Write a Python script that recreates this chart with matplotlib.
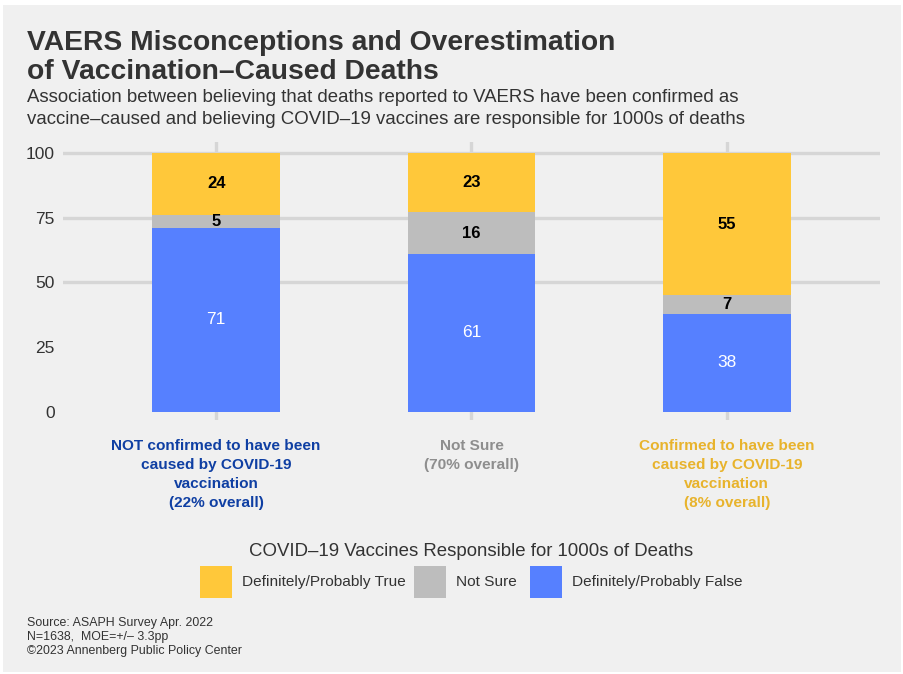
import matplotlib.pyplot as plt
from matplotlib.patches import Rectangle

plt.rcParams['font.family'] = ['Liberation Sans', 'DejaVu Sans']

# data
groups = ['NOT confirmed to have been\ncaused by COVID-19\nvaccination\n(22% overall)',
          'Not Sure\n(70% overall)',
          'Confirmed to have been\ncaused by COVID-19\nvaccination\n(8% overall)']
group_colors = ['#0f3fa3', '#8e8e8e', '#e8b32c']
series = ['Definitely/Probably False', 'Not Sure', 'Definitely/Probably True']
false_vals = [71, 61, 38]
notsure_vals = [5, 16, 7]
true_vals = [24, 23, 55]
colors = {'Definitely/Probably False': '#5680ff',
          'Not Sure': '#bdbdbd',
          'Definitely/Probably True': '#ffc83a'}
yticks = [0, 25, 50, 75, 100]
legend_order = ['Definitely/Probably True', 'Not Sure', 'Definitely/Probably False']

title_lines = ['VAERS Misconceptions and Overestimation', 'of Vaccination–Caused Deaths']
subtitle_lines = ['Association between believing that deaths reported to VAERS have been confirmed as',
                  'vaccine–caused and believing COVID–19 vaccines are responsible for 1000s of deaths']
footer_lines = ['Source: ASAPH Survey Apr. 2022', 'N=1638,  MOE=+/– 3.3pp',
                '©2023 Annenberg Public Policy Center']

W, H = 904, 674
fig = plt.figure(figsize=(W / 100, H / 100), dpi=100, facecolor='white')
fig.patches.append(Rectangle((3 / W, 2 / H), 898 / W, 667 / H, transform=fig.transFigure,
                             facecolor='#f0f0f0', edgecolor='none', zorder=-10))

ax = fig.add_axes([63 / W, (H - 420) / H, 817 / W, 278 / H])
ax.set_facecolor('none')
ax.set_xlim(-0.6, 2.6)
ax.set_ylim(-3.1, 104.2)
for s in ax.spines.values():
    s.set_visible(False)

x = list(range(len(groups)))
for g in [50, 75, 100]:
    ax.axhline(g, color='#d6d6d6', lw=2.4, zorder=0)
for xi in x:
    ax.axvline(xi, color='#d6d6d6', lw=2.4, zorder=0)

bottoms = [0, 0, 0]
vals = {'Definitely/Probably False': false_vals, 'Not Sure': notsure_vals,
        'Definitely/Probably True': true_vals}
for name in series:
    v = vals[name]
    ax.bar(x, v, bottom=bottoms, width=0.5, color=colors[name], zorder=2)
    for xi, b, val in zip(x, bottoms, v):
        if name == 'Definitely/Probably False':
            ax.text(xi, b + val / 2, str(val), ha='center', va='center', color='white',
                    fontsize=12.5, zorder=3)
        else:
            ax.text(xi, b + val / 2, str(val), ha='center', va='center', color='black',
                    fontsize=12, fontweight='bold', zorder=3)
    bottoms = [b + val for b, val in zip(bottoms, v)]

ax.set_yticks(yticks)
ax.set_yticklabels([str(t) for t in yticks], fontsize=12.5, color='#333333')
ax.tick_params(axis='y', length=0, pad=6)
ax.set_xticks([])

# category labels
for xi, lab, c in zip(x, groups, group_colors):
    ax.text(xi, -10.5, lab, ha='center', va='top', color=c, fontsize=11.1,
            fontweight='bold', linespacing=1.45)

# titles
for i, line in enumerate(title_lines):
    fig.text(27 / W, 1 - (50 + 29 * i) / H, line, fontsize=20.3, fontweight='bold',
             color='#333333', va='baseline')
for i, line in enumerate(subtitle_lines):
    fig.text(27 / W, 1 - (102 + 21.5 * i) / H, line, fontsize=13.4, color='#333333',
             va='baseline')

# legend
fig.text(471 / W, 1 - 556 / H, 'COVID–19 Vaccines Responsible for 1000s of Deaths',
         ha='center', va='baseline', fontsize=13.4, color='#333333')
sq_x = [200, 414, 530]
for sx, name in zip(sq_x, legend_order):
    fig.patches.append(Rectangle((sx / W, 1 - 598 / H), 32 / W, 32 / H,
                                 transform=fig.transFigure, facecolor=colors[name],
                                 edgecolor='none'))
    fig.text((sx + 42) / W, 1 - 582 / H, name, ha='left', va='center', fontsize=11.1,
             color='#333333')

for i, line in enumerate(footer_lines):
    fig.text(27 / W, 1 - (626 + 14 * i) / H, line, fontsize=8.9, color='#333333',
             va='baseline')

fig.savefig('out.png', dpi=100, facecolor='white')
